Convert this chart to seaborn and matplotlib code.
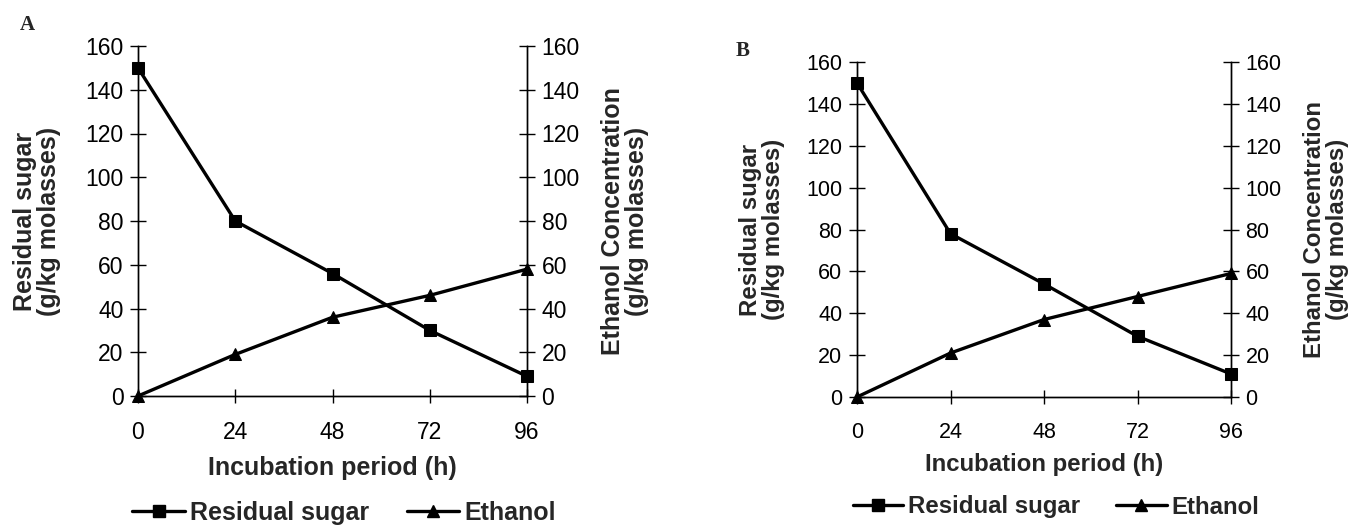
import matplotlib
matplotlib.use("Agg")
import matplotlib.pyplot as plt
import seaborn as sns
import pandas as pd
from matplotlib.lines import Line2D

sns.set_theme(style="white")
plt.rcParams['font.family'] = ['Liberation Sans', 'DejaVu Sans']

hours = [0, 24, 48, 72, 96]
sugar_A = [150, 80, 56, 30, 9]
ethanol_A = [0, 19, 36, 46, 58]
sugar_B = [150, 78, 54, 29, 11]
ethanol_B = [0, 21, 37, 48, 59]
yticks = [0, 20, 40, 60, 80, 100, 120, 140, 160]

W, H = 1353, 525
fig = plt.figure(figsize=(W / 100, H / 100), dpi=100)

def px_axes(x0, y_top, x1, y_bot):
    return fig.add_axes([x0 / W, 1 - y_bot / H, (x1 - x0) / W, (y_bot - y_top) / H])

def draw_panel(ax, sugar, ethanol, letter, letter_xy, ylab_x, ylab2_x, xlab_y,
               leg_center, tick_fs, lab_fs):
    df = pd.DataFrame({"h": hours, "sugar": sugar, "eth": ethanol})
    sns.lineplot(data=df, x="h", y="sugar", ax=ax, color="black", lw=2.4,
                 marker="s", markersize=8, markeredgecolor="black", clip_on=False)
    ax2 = ax.twinx()
    sns.lineplot(data=df, x="h", y="eth", ax=ax2, color="black", lw=2.4,
                 marker="^", markersize=9, markeredgecolor="black", clip_on=False)
    for a in (ax, ax2):
        a.set_xlim(0, 96)
        a.set_ylim(0, 160)
        a.set_yticks(yticks)
        a.spines['top'].set_visible(False)
        for s in a.spines.values():
            s.set_color("black")
            s.set_linewidth(1.0)
        a.set_xlabel("")
        a.set_ylabel("")
        a.grid(False)
        a.set_facecolor("none")
    ax.set_xticks(hours)
    ax.tick_params(axis='x', direction='inout', length=10, width=1, pad=13,
                   labelsize=tick_fs, colors='black', bottom=True)
    ax.tick_params(axis='y', direction='inout', length=11, width=1, pad=5,
                   labelsize=tick_fs, colors='black', left=True)
    ax2.tick_params(axis='y', direction='inout', length=11, width=1, pad=5,
                    labelsize=tick_fs, colors='black', right=True)
    pos = ax.get_position()
    yc = pos.y0 + pos.height / 2
    fig.text(ylab_x / W, yc, "Residual sugar\n(g/kg molasses)", rotation=90,
             ha='center', va='center', fontsize=lab_fs, fontweight='bold',
             linespacing=1.05)
    fig.text(ylab2_x / W, yc, "Ethanol Concentration\n(g/kg molasses)", rotation=90,
             ha='center', va='center', fontsize=lab_fs, fontweight='bold',
             linespacing=1.05)
    fig.text(pos.x0 + pos.width / 2, 1 - xlab_y / H, "Incubation period (h)",
             ha='center', va='center', fontsize=lab_fs, fontweight='bold')
    fig.text(letter_xy[0] / W, 1 - letter_xy[1] / H, letter, ha='center', va='center',
             fontsize=15, fontweight='bold', family='Liberation Serif')
    handles = [Line2D([], [], color='black', lw=2.4, marker='s', markersize=8),
               Line2D([], [], color='black', lw=2.4, marker='^', markersize=9)]
    fig.legend(handles, ["Residual sugar", "Ethanol"], ncol=2, frameon=False,
               loc='center', bbox_to_anchor=(leg_center[0] / W, 1 - leg_center[1] / H),
               prop={'size': lab_fs, 'weight': 'bold'}, handlelength=2.1,
               handletextpad=0.2, columnspacing=1.5, borderpad=0, borderaxespad=0)

axA = px_axes(138, 46, 527, 396)
draw_panel(axA, sugar_A, ethanol_A, "A", (27, 25), 37, 625, 468, (344, 513), 16.5, 18)
axB = px_axes(857, 62, 1231, 397)
draw_panel(axB, sugar_B, ethanol_B, "B", (743, 51), 762, 1326, 465, (1056, 507), 15.5, 17.3)

fig.savefig("out.png", dpi=100, facecolor="white")
